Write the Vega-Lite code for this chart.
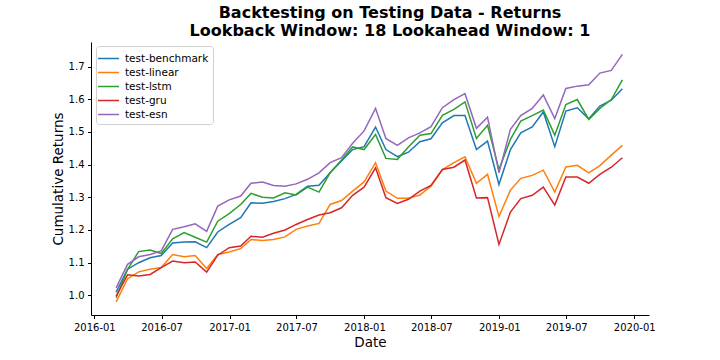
{
  "$schema": "https://vega.github.io/schema/vega-lite/v6.json",
  "width": 558,
  "height": 273,
  "autosize": {"type": "none"},
  "padding": {"left": 91, "top": 42, "right": 71, "bottom": 45},
  "background": "white",
  "config": {
    "font": "DejaVu Sans",
    "view": {"stroke": null},
    "axis": {"grid": false, "domainColor": "black", "tickColor": "black", "labelColor": "black", "titleColor": "black", "labelFont": "DejaVu Sans", "titleFont": "DejaVu Sans", "labelFontSize": 10, "titleFontSize": 13.5, "titleFontWeight": "normal", "tickSize": 3.5, "labelPadding": 3.5, "domainWidth": 1}
  },
  "title": {
    "text": ["Backtesting on Testing Data - Returns", "Lookback Window: 18 Lookahead Window: 1"],
    "font": "DejaVu Sans",
    "fontSize": 16,
    "fontWeight": "bold",
    "color": "black",
    "anchor": "middle",
    "dx": 20,
    "offset": 3,
    "lineHeight": 18
  },
  "data": {
    "values": [
      {"date":"2016-02-29","series":"test-benchmark","value":1.010},
      {"date":"2016-03-31","series":"test-benchmark","value":1.080},
      {"date":"2016-04-30","series":"test-benchmark","value":1.100},
      {"date":"2016-05-31","series":"test-benchmark","value":1.115},
      {"date":"2016-06-30","series":"test-benchmark","value":1.122},
      {"date":"2016-07-31","series":"test-benchmark","value":1.160},
      {"date":"2016-08-31","series":"test-benchmark","value":1.163},
      {"date":"2016-09-30","series":"test-benchmark","value":1.164},
      {"date":"2016-10-31","series":"test-benchmark","value":1.146},
      {"date":"2016-11-30","series":"test-benchmark","value":1.194},
      {"date":"2016-12-31","series":"test-benchmark","value":1.217},
      {"date":"2017-01-31","series":"test-benchmark","value":1.238},
      {"date":"2017-02-28","series":"test-benchmark","value":1.283},
      {"date":"2017-03-31","series":"test-benchmark","value":1.282},
      {"date":"2017-04-30","series":"test-benchmark","value":1.287},
      {"date":"2017-05-31","series":"test-benchmark","value":1.296},
      {"date":"2017-06-30","series":"test-benchmark","value":1.309},
      {"date":"2017-07-31","series":"test-benchmark","value":1.334},
      {"date":"2017-08-31","series":"test-benchmark","value":1.337},
      {"date":"2017-09-30","series":"test-benchmark","value":1.375},
      {"date":"2017-10-31","series":"test-benchmark","value":1.411},
      {"date":"2017-11-30","series":"test-benchmark","value":1.446},
      {"date":"2017-12-31","series":"test-benchmark","value":1.455},
      {"date":"2018-01-31","series":"test-benchmark","value":1.515},
      {"date":"2018-02-28","series":"test-benchmark","value":1.446},
      {"date":"2018-03-31","series":"test-benchmark","value":1.424},
      {"date":"2018-04-30","series":"test-benchmark","value":1.438},
      {"date":"2018-05-31","series":"test-benchmark","value":1.470},
      {"date":"2018-06-30","series":"test-benchmark","value":1.479},
      {"date":"2018-07-31","series":"test-benchmark","value":1.528},
      {"date":"2018-08-31","series":"test-benchmark","value":1.550},
      {"date":"2018-09-30","series":"test-benchmark","value":1.550},
      {"date":"2018-10-31","series":"test-benchmark","value":1.446},
      {"date":"2018-11-30","series":"test-benchmark","value":1.472},
      {"date":"2018-12-31","series":"test-benchmark","value":1.339},
      {"date":"2019-01-31","series":"test-benchmark","value":1.446},
      {"date":"2019-02-28","series":"test-benchmark","value":1.497},
      {"date":"2019-03-31","series":"test-benchmark","value":1.515},
      {"date":"2019-04-30","series":"test-benchmark","value":1.561},
      {"date":"2019-05-31","series":"test-benchmark","value":1.455},
      {"date":"2019-06-30","series":"test-benchmark","value":1.564},
      {"date":"2019-07-31","series":"test-benchmark","value":1.574},
      {"date":"2019-08-31","series":"test-benchmark","value":1.540},
      {"date":"2019-09-30","series":"test-benchmark","value":1.579},
      {"date":"2019-10-31","series":"test-benchmark","value":1.597},
      {"date":"2019-11-30","series":"test-benchmark","value":1.632},

      {"date":"2016-02-29","series":"test-linear","value":0.980},
      {"date":"2016-03-31","series":"test-linear","value":1.051},
      {"date":"2016-04-30","series":"test-linear","value":1.072},
      {"date":"2016-05-31","series":"test-linear","value":1.080},
      {"date":"2016-06-30","series":"test-linear","value":1.085},
      {"date":"2016-07-31","series":"test-linear","value":1.125},
      {"date":"2016-08-31","series":"test-linear","value":1.118},
      {"date":"2016-09-30","series":"test-linear","value":1.122},
      {"date":"2016-10-31","series":"test-linear","value":1.082},
      {"date":"2016-11-30","series":"test-linear","value":1.125},
      {"date":"2016-12-31","series":"test-linear","value":1.133},
      {"date":"2017-01-31","series":"test-linear","value":1.143},
      {"date":"2017-02-28","series":"test-linear","value":1.171},
      {"date":"2017-03-31","series":"test-linear","value":1.168},
      {"date":"2017-04-30","series":"test-linear","value":1.171},
      {"date":"2017-05-31","series":"test-linear","value":1.179},
      {"date":"2017-06-30","series":"test-linear","value":1.202},
      {"date":"2017-07-31","series":"test-linear","value":1.212},
      {"date":"2017-08-31","series":"test-linear","value":1.220},
      {"date":"2017-09-30","series":"test-linear","value":1.278},
      {"date":"2017-10-31","series":"test-linear","value":1.290},
      {"date":"2017-11-30","series":"test-linear","value":1.319},
      {"date":"2017-12-31","series":"test-linear","value":1.347},
      {"date":"2018-01-31","series":"test-linear","value":1.406},
      {"date":"2018-02-28","series":"test-linear","value":1.319},
      {"date":"2018-03-31","series":"test-linear","value":1.297},
      {"date":"2018-04-30","series":"test-linear","value":1.297},
      {"date":"2018-05-31","series":"test-linear","value":1.307},
      {"date":"2018-06-30","series":"test-linear","value":1.334},
      {"date":"2018-07-31","series":"test-linear","value":1.385},
      {"date":"2018-08-31","series":"test-linear","value":1.406},
      {"date":"2018-09-30","series":"test-linear","value":1.424},
      {"date":"2018-10-31","series":"test-linear","value":1.343},
      {"date":"2018-11-30","series":"test-linear","value":1.370},
      {"date":"2018-12-31","series":"test-linear","value":1.241},
      {"date":"2019-01-31","series":"test-linear","value":1.322},
      {"date":"2019-02-28","series":"test-linear","value":1.358},
      {"date":"2019-03-31","series":"test-linear","value":1.367},
      {"date":"2019-04-30","series":"test-linear","value":1.383},
      {"date":"2019-05-31","series":"test-linear","value":1.316},
      {"date":"2019-06-30","series":"test-linear","value":1.393},
      {"date":"2019-07-31","series":"test-linear","value":1.398},
      {"date":"2019-08-31","series":"test-linear","value":1.375},
      {"date":"2019-09-30","series":"test-linear","value":1.397},
      {"date":"2019-10-31","series":"test-linear","value":1.429},
      {"date":"2019-11-30","series":"test-linear","value":1.459},

      {"date":"2016-02-29","series":"test-lstm","value":0.993},
      {"date":"2016-03-31","series":"test-lstm","value":1.080},
      {"date":"2016-04-30","series":"test-lstm","value":1.134},
      {"date":"2016-05-31","series":"test-lstm","value":1.139},
      {"date":"2016-06-30","series":"test-lstm","value":1.128},
      {"date":"2016-07-31","series":"test-lstm","value":1.173},
      {"date":"2016-08-31","series":"test-lstm","value":1.192},
      {"date":"2016-09-30","series":"test-lstm","value":1.178},
      {"date":"2016-10-31","series":"test-lstm","value":1.163},
      {"date":"2016-11-30","series":"test-lstm","value":1.227},
      {"date":"2016-12-31","series":"test-lstm","value":1.250},
      {"date":"2017-01-31","series":"test-lstm","value":1.278},
      {"date":"2017-02-28","series":"test-lstm","value":1.312},
      {"date":"2017-03-31","series":"test-lstm","value":1.300},
      {"date":"2017-04-30","series":"test-lstm","value":1.298},
      {"date":"2017-05-31","series":"test-lstm","value":1.314},
      {"date":"2017-06-30","series":"test-lstm","value":1.307},
      {"date":"2017-07-31","series":"test-lstm","value":1.331},
      {"date":"2017-08-31","series":"test-lstm","value":1.316},
      {"date":"2017-09-30","series":"test-lstm","value":1.375},
      {"date":"2017-10-31","series":"test-lstm","value":1.414},
      {"date":"2017-11-30","series":"test-lstm","value":1.454},
      {"date":"2017-12-31","series":"test-lstm","value":1.446},
      {"date":"2018-01-31","series":"test-lstm","value":1.492},
      {"date":"2018-02-28","series":"test-lstm","value":1.419},
      {"date":"2018-03-31","series":"test-lstm","value":1.416},
      {"date":"2018-04-30","series":"test-lstm","value":1.454},
      {"date":"2018-05-31","series":"test-lstm","value":1.490},
      {"date":"2018-06-30","series":"test-lstm","value":1.495},
      {"date":"2018-07-31","series":"test-lstm","value":1.551},
      {"date":"2018-08-31","series":"test-lstm","value":1.569},
      {"date":"2018-09-30","series":"test-lstm","value":1.592},
      {"date":"2018-10-31","series":"test-lstm","value":1.480},
      {"date":"2018-11-30","series":"test-lstm","value":1.520},
      {"date":"2018-12-31","series":"test-lstm","value":1.385},
      {"date":"2019-01-31","series":"test-lstm","value":1.477},
      {"date":"2019-02-28","series":"test-lstm","value":1.533},
      {"date":"2019-03-31","series":"test-lstm","value":1.550},
      {"date":"2019-04-30","series":"test-lstm","value":1.567},
      {"date":"2019-05-31","series":"test-lstm","value":1.490},
      {"date":"2019-06-30","series":"test-lstm","value":1.584},
      {"date":"2019-07-31","series":"test-lstm","value":1.599},
      {"date":"2019-08-31","series":"test-lstm","value":1.538},
      {"date":"2019-09-30","series":"test-lstm","value":1.572},
      {"date":"2019-10-31","series":"test-lstm","value":1.599},
      {"date":"2019-11-30","series":"test-lstm","value":1.659},

      {"date":"2016-02-29","series":"test-gru","value":0.998},
      {"date":"2016-03-31","series":"test-gru","value":1.063},
      {"date":"2016-04-30","series":"test-gru","value":1.059},
      {"date":"2016-05-31","series":"test-gru","value":1.064},
      {"date":"2016-06-30","series":"test-gru","value":1.085},
      {"date":"2016-07-31","series":"test-gru","value":1.105},
      {"date":"2016-08-31","series":"test-gru","value":1.100},
      {"date":"2016-09-30","series":"test-gru","value":1.102},
      {"date":"2016-10-31","series":"test-gru","value":1.071},
      {"date":"2016-11-30","series":"test-gru","value":1.123},
      {"date":"2016-12-31","series":"test-gru","value":1.146},
      {"date":"2017-01-31","series":"test-gru","value":1.151},
      {"date":"2017-02-28","series":"test-gru","value":1.181},
      {"date":"2017-03-31","series":"test-gru","value":1.178},
      {"date":"2017-04-30","series":"test-gru","value":1.190},
      {"date":"2017-05-31","series":"test-gru","value":1.200},
      {"date":"2017-06-30","series":"test-gru","value":1.217},
      {"date":"2017-07-31","series":"test-gru","value":1.232},
      {"date":"2017-08-31","series":"test-gru","value":1.246},
      {"date":"2017-09-30","series":"test-gru","value":1.253},
      {"date":"2017-10-31","series":"test-gru","value":1.268},
      {"date":"2017-11-30","series":"test-gru","value":1.306},
      {"date":"2017-12-31","series":"test-gru","value":1.331},
      {"date":"2018-01-31","series":"test-gru","value":1.390},
      {"date":"2018-02-28","series":"test-gru","value":1.299},
      {"date":"2018-03-31","series":"test-gru","value":1.281},
      {"date":"2018-04-30","series":"test-gru","value":1.294},
      {"date":"2018-05-31","series":"test-gru","value":1.319},
      {"date":"2018-06-30","series":"test-gru","value":1.336},
      {"date":"2018-07-31","series":"test-gru","value":1.385},
      {"date":"2018-08-31","series":"test-gru","value":1.392},
      {"date":"2018-09-30","series":"test-gru","value":1.414},
      {"date":"2018-10-31","series":"test-gru","value":1.298},
      {"date":"2018-11-30","series":"test-gru","value":1.299},
      {"date":"2018-12-31","series":"test-gru","value":1.156},
      {"date":"2019-01-31","series":"test-gru","value":1.255},
      {"date":"2019-02-28","series":"test-gru","value":1.296},
      {"date":"2019-03-31","series":"test-gru","value":1.306},
      {"date":"2019-04-30","series":"test-gru","value":1.331},
      {"date":"2019-05-31","series":"test-gru","value":1.276},
      {"date":"2019-06-30","series":"test-gru","value":1.362},
      {"date":"2019-07-31","series":"test-gru","value":1.362},
      {"date":"2019-08-31","series":"test-gru","value":1.343},
      {"date":"2019-09-30","series":"test-gru","value":1.370},
      {"date":"2019-10-31","series":"test-gru","value":1.392},
      {"date":"2019-11-30","series":"test-gru","value":1.421},

      {"date":"2016-02-29","series":"test-esn","value":1.023},
      {"date":"2016-03-31","series":"test-esn","value":1.095},
      {"date":"2016-04-30","series":"test-esn","value":1.118},
      {"date":"2016-05-31","series":"test-esn","value":1.125},
      {"date":"2016-06-30","series":"test-esn","value":1.136},
      {"date":"2016-07-31","series":"test-esn","value":1.202},
      {"date":"2016-08-31","series":"test-esn","value":1.210},
      {"date":"2016-09-30","series":"test-esn","value":1.219},
      {"date":"2016-10-31","series":"test-esn","value":1.196},
      {"date":"2016-11-30","series":"test-esn","value":1.273},
      {"date":"2016-12-31","series":"test-esn","value":1.292},
      {"date":"2017-01-31","series":"test-esn","value":1.304},
      {"date":"2017-02-28","series":"test-esn","value":1.343},
      {"date":"2017-03-31","series":"test-esn","value":1.347},
      {"date":"2017-04-30","series":"test-esn","value":1.336},
      {"date":"2017-05-31","series":"test-esn","value":1.334},
      {"date":"2017-06-30","series":"test-esn","value":1.341},
      {"date":"2017-07-31","series":"test-esn","value":1.355},
      {"date":"2017-08-31","series":"test-esn","value":1.375},
      {"date":"2017-09-30","series":"test-esn","value":1.406},
      {"date":"2017-10-31","series":"test-esn","value":1.421},
      {"date":"2017-11-30","series":"test-esn","value":1.465},
      {"date":"2017-12-31","series":"test-esn","value":1.503},
      {"date":"2018-01-31","series":"test-esn","value":1.572},
      {"date":"2018-02-28","series":"test-esn","value":1.480},
      {"date":"2018-03-31","series":"test-esn","value":1.459},
      {"date":"2018-04-30","series":"test-esn","value":1.482},
      {"date":"2018-05-31","series":"test-esn","value":1.497},
      {"date":"2018-06-30","series":"test-esn","value":1.516},
      {"date":"2018-07-31","series":"test-esn","value":1.574},
      {"date":"2018-08-31","series":"test-esn","value":1.599},
      {"date":"2018-09-30","series":"test-esn","value":1.617},
      {"date":"2018-10-31","series":"test-esn","value":1.511},
      {"date":"2018-11-30","series":"test-esn","value":1.545},
      {"date":"2018-12-31","series":"test-esn","value":1.375},
      {"date":"2019-01-31","series":"test-esn","value":1.508},
      {"date":"2019-02-28","series":"test-esn","value":1.550},
      {"date":"2019-03-31","series":"test-esn","value":1.572},
      {"date":"2019-04-30","series":"test-esn","value":1.613},
      {"date":"2019-05-31","series":"test-esn","value":1.541},
      {"date":"2019-06-30","series":"test-esn","value":1.633},
      {"date":"2019-07-31","series":"test-esn","value":1.640},
      {"date":"2019-08-31","series":"test-esn","value":1.644},
      {"date":"2019-09-30","series":"test-esn","value":1.680},
      {"date":"2019-10-31","series":"test-esn","value":1.688},
      {"date":"2019-11-30","series":"test-esn","value":1.737}
    ]
  },
  "mark": {"type": "line", "strokeWidth": 1.5, "clip": true},
  "encoding": {
    "x": {
      "field": "date",
      "type": "temporal",
      "title": "Date",
      "scale": {"type": "utc", "domain": ["2015-12-23", "2020-02-10"], "nice": false},
      "axis": {
        "format": "%Y-%m",
        "values": [
          {"year": 2016, "month": 1, "date": 1, "utc": true},
          {"year": 2016, "month": 7, "date": 1, "utc": true},
          {"year": 2017, "month": 1, "date": 1, "utc": true},
          {"year": 2017, "month": 7, "date": 1, "utc": true},
          {"year": 2018, "month": 1, "date": 1, "utc": true},
          {"year": 2018, "month": 7, "date": 1, "utc": true},
          {"year": 2019, "month": 1, "date": 1, "utc": true},
          {"year": 2019, "month": 7, "date": 1, "utc": true},
          {"year": 2020, "month": 1, "date": 1, "utc": true}
        ],
        "labelAngle": 0,
        "labelFlush": false,
        "labelOverlap": false,
        "titlePadding": 3
      }
    },
    "y": {
      "field": "value",
      "type": "quantitative",
      "title": "Cumulative Returns",
      "scale": {"domain": [0.940, 1.775], "nice": false, "zero": false},
      "axis": {"values": [1.0, 1.1, 1.2, 1.3, 1.4, 1.5, 1.6, 1.7], "format": ".1f", "titlePadding": 3, "labelFlush": false}
    },
    "color": {
      "field": "series",
      "type": "nominal",
      "scale": {
        "domain": ["test-benchmark", "test-linear", "test-lstm", "test-gru", "test-esn"],
        "range": ["#1f77b4", "#ff7f0e", "#2ca02c", "#d62728", "#9467bd"]
      },
      "legend": {
        "title": null,
        "orient": "none",
        "legendX": 5,
        "legendY": 4,
        "symbolType": "M-1.4,0H1.4",
        "symbolSize": 225,
        "symbolStrokeWidth": 1.5,
        "labelFontSize": 10.5,
        "labelFont": "DejaVu Sans",
        "labelColor": "black",
        "labelOffset": 8,
        "rowPadding": 0,
        "padding": 4,
        "strokeColor": "#d0d0d0",
        "fillColor": "white",
        "cornerRadius": 3
      }
    }
  }
}
